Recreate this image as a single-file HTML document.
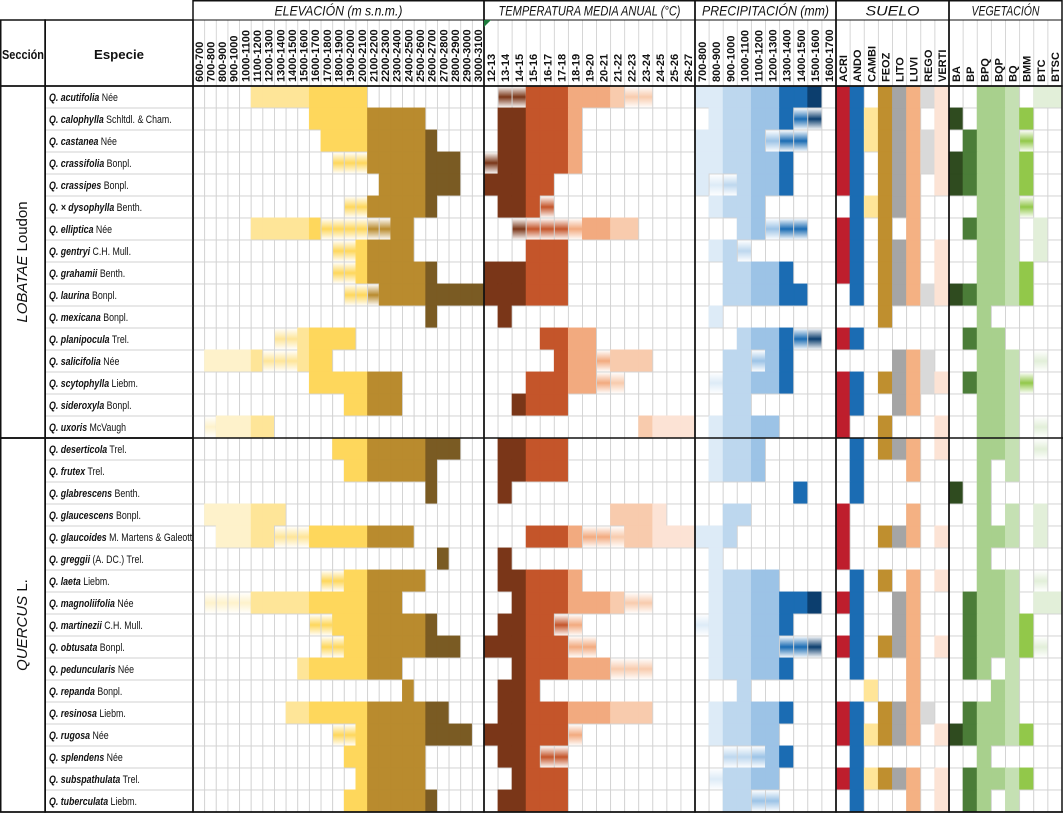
<!DOCTYPE html>
<html><head><meta charset="utf-8">
<style>
html,body{margin:0;padding:0;background:#fff;}
svg{display:block;font-family:"Liberation Sans",sans-serif;}
</style></head>
<body>
<svg id="chart" width="1063" height="814" viewBox="0 0 1063 814" xmlns="http://www.w3.org/2000/svg">
<defs id="defs"></defs>
<g id="cells"></g>
<g id="grid"></g>
<g id="labels"></g>
</svg>
<script>
const NS="http://www.w3.org/2000/svg";
const speciesEpithet=["acutifolia","calophylla","castanea","crassifolia","crassipes","× dysophylla","elliptica","gentryi","grahamii","laurina","mexicana","planipocula","salicifolia","scytophylla","sideroxyla","uxoris",
"deserticola","frutex","glabrescens","glaucescens","glaucoides","greggii","laeta","magnoliifolia","martinezii","obtusata","peduncularis","repanda","resinosa","rugosa","splendens","subspathulata","tuberculata"];
const speciesAuthor=["Née","Schltdl. & Cham.","Née","Bonpl.","Bonpl.","Benth.","Née","C.H. Mull.","Benth.","Bonpl.","Bonpl.","Trel.","Née","Liebm.","Bonpl.","McVaugh",
"Trel.","Trel.","Benth.","Bonpl.","M. Martens & Galeotti","(A. DC.) Trel.","Liebm.","Née","C.H. Mull.","Bonpl.","Née","Bonpl.","Liebm.","Née","Née","Trel.","Liebm."];
const sections=["LOBATAE","QUERCUS"];
const sectionAuthor=["Loudon","L."];
const sectionSizes=[16,17];
const elevLabels=["600-700","700-800","800-900","900-1000","1000-1100","1100-1200","1200-1300","1300-1400","1400-1500","1500-1600","1600-1700","1700-1800","1800-1900","1900-2000","2000-2100","2100-2200","2200-2300","2300-2400","2400-2500","2500-2600","2600-2700","2700-2800","2800-2900","2900-3000","3000-3100"];
const tempLabels=["12-13","13-14","14-15","15-16","16-17","17-18","18-19","19-20","20-21","21-22","22-23","23-24","24-25","25-26","26-27"];
const precLabels=["700-800","800-900","900-1000","1000-1100","1100-1200","1200-1300","1300-1400","1400-1500","1500-1600","1600-1700"];
const soilLabels=["ACRI","ANDO","CAMBI","FEOZ","LITO","LUVI","REGO","VERTI"];
const vegLabels=["BA","BP","BPQ","BQP","BQ","BMM","BTC","BTSC"];
// '#' = present, 'g' = partial (gradient), '.' = absent
const elevData=[
".....##########..........",
"..........##########.....",
"...........##########....",
"............ggg########..",
"................#######..",
".............gg######....",
".....######gggggg##......",
"............gg#####......",
"............gg#######....",
".............ggg#########",
"....................#....",
".......gg#####...........",
".#####ggg###.............",
"..........########.......",
".............#####.......",
".g#####..................",
"............###########..",
".............########....",
"....................#....",
".#######.................",
"..#####ggg#########......",
".....................#...",
"...........gg#######.....",
".gggg#############.......",
"..........gg#########....",
"...........gg##########..",
".........#########.......",
"..................#......",
"........##############...",
"............gg##########.",
".............#######.....",
"..............######.....",
".............########...."];
const tempData=[
".gg#######gg...",
".######........",
".######........",
"g######........",
"#####..........",
".###g..........",
"..ggggg####....",
"...###.........",
"######.........",
"######.........",
".#.............",
"....####.......",
".....###g###...",
"...#####gg.....",
"..####.........",
"...........####",
".#####.........",
".#####.........",
".#.............",
".........####..",
"...####ggg#####",
".#.............",
".######........",
"..########gg...",
".####gg........",
"######gg.......",
"..#######ggg...",
".###...........",
".###########...",
"######g........",
".###gg.........",
"..####.........",
".#####........."];
const precData=[
"#########.",
".######gg.",
"#####ggg..",
"#######...",
"#gg####...",
".####.....",
"...##ggg..",
".##g......",
"..#####...",
"..######..",
".#........",
"...####gg.",
"..##g##...",
".g#####...",
"..##......",
".#####....",
".####.....",
".####.....",
".......#..",
"..##......",
"###.......",
".#........",
".#####....",
".########.",
"g######...",
".#####ggg.",
".######...",
"...#......",
".######...",
".#####....",
"..ggg##...",
".g####....",
"..##gg...."];
const soilData=[
"##.#####","######.#","########","##.#####","##.###.#",".#####..","##.#.#..","##.###.#","##.###.#",".#.#####","...#....","##......","....###.","##.#####","##..##..","#..#...#",
".#.###.#",".#...#..",".#......","#....#..","#..###.#","#.......",".#.#.#.#","##..##..",".#..##..","##.###.#",".#...#..","..#..#..","##.####.","######.#",".#......","######.#",".#...#.#"];
const vegData=[
"..###.##","#.####..",".####g..","######..","######..","..###g..",".####.#.","..###.#.","..####..","######..","..#.....",".###....","..###.g.",".####g..","..###...","..###.g.",
"..###.g.","..#.#...","#.#.....","..#.#.#.","..###.#.","..#.....","..###.g.",".####.##",".#####..",".#####g.",".##.#...","...##...",".####...","######..","..#.....",".#####..",".##.#..."];

const elevColors=["#fef2cb","#fee598","#fed75c","#b98b2e","#7a5b23"];
const tempColors=["#7a3618","#c4552a","#f2aa7f","#f8cbad","#fce3d5"];
const precColors=["#ddebf7","#bdd7ee","#9cc3e6","#1b6cb3","#0c3e6e"];
const soilColors=["#be1e2d","#1b6cb3","#ffe598","#bf8f2f","#a5a5a5","#f4b183","#d9d9d9","#fce3d5"];
const vegColors=["#2f4b1f","#4b7d38","#a8d08d","#a8d08d","#c5e0b3","#92c84a","#e2efd9","#e2efd9"];

const TOP=86, ROWH=22;
const groups=[
 {name:"elevation",title:"ELEVACIÓN (m s.n.m.)",tl:128,x0:193,x1:484,labels:elevLabels,data:elevData,color:c=>elevColors[Math.floor(c/5)]},
 {name:"temperature",title:"TEMPERATURA MEDIA ANUAL (°C)",tl:182,x0:484,x1:695,labels:tempLabels,data:tempData,color:c=>tempColors[Math.floor(c/3)]},
 {name:"precipitation",title:"PRECIPITACIÓN (mm)",tl:127,x0:695,x1:836,labels:precLabels,data:precData,color:c=>precColors[Math.floor(c/2)]},
 {name:"soil",title:"SUELO",tl:54,x0:836,x1:949,labels:soilLabels,data:soilData,color:c=>soilColors[c]},
 {name:"vegetation",title:"VEGETACIÓN",tl:68,x0:949,x1:1062,labels:vegLabels,data:vegData,color:c=>vegColors[c]}
];
const defs=document.getElementById('defs');
const cellsG=document.getElementById('cells');
const gridG=document.getElementById('grid');
const labG=document.getElementById('labels');
function mk(tag,attrs,parent){const e=document.createElementNS(NS,tag);for(const k in attrs)e.setAttribute(k,attrs[k]);parent.appendChild(e);return e;}
const gradIds={};
function gradFor(col){
  if(gradIds[col])return gradIds[col];
  const id="g"+Object.keys(gradIds).length;
  const lg=mk('linearGradient',{id:id,x1:0,y1:0,x2:0,y2:1},defs);
  mk('stop',{offset:"0",'stop-color':"#fff"},lg);
  mk('stop',{offset:"0.5",'stop-color':col},lg);
  mk('stop',{offset:"1",'stop-color':"#fff"},lg);
  gradIds[col]="url(#"+id+")";return gradIds[col];
}
const nRows=speciesEpithet.length;
const yOf=r=>TOP+r*ROWH;
groups.forEach(g=>{
  const n=g.labels.length, w=(g.x1-g.x0)/n;
  const xOf=c=>g.x0+c*w;
  for(let r=0;r<nRows;r++){
    for(let c=0;c<n;c++){
      const v=g.data[r][c];
      const rc=mk('rect',{x:xOf(c),y:yOf(r),width:w,height:ROWH,fill:"#fff",stroke:"#d2d2d2","stroke-width":0.9},cellsG);
      if(v==='#'||v==='g'){
        rc.setAttribute('fill', v==='#'?g.color(c):gradFor(g.color(c)));
        rc.setAttribute('stroke', v==='#'?g.color(c):"#d2d2d2");
      }
      
      
    }
  }
  for(let c=0;c<n;c++){
    const cx=xOf(c)+w/2+4, cy=82;
    const t=mk('text',{x:cx,y:cy,transform:`rotate(-90 ${cx} ${cy})`,'font-size':"11",'font-weight':"bold",fill:"#111"},labG);
    t.textContent=g.labels[c];
    
    
    mk('line',{x1:xOf(c),y1:20,x2:xOf(c),y2:TOP,stroke:"#d2d2d2","stroke-width":0.9},gridG);
  }
  const tt=mk('text',{x:(g.x0+g.x1)/2,y:15.5,'text-anchor':"middle",'font-size':"14",'font-style':"italic",fill:"#111",textLength:g.tl,lengthAdjust:"spacingAndGlyphs"},labG);
  tt.textContent=g.title;
  
  
  mk('rect',{x:g.x0,y:0.75,width:g.x1-g.x0,height:TOP-0.75,fill:"none",stroke:"#111","stroke-width":1.5},gridG);
  mk('line',{x1:g.x0,y1:20,x2:g.x1,y2:20,stroke:"#111","stroke-width":1},gridG);
  mk('rect',{x:g.x0,y:TOP,width:g.x1-g.x0,height:nRows*ROWH,fill:"none",stroke:"#111","stroke-width":1.5},gridG);
});
mk('rect',{x:0.75,y:20,width:44.5,height:TOP-20,fill:"none",stroke:"#111","stroke-width":1.5},gridG);
mk('rect',{x:45,y:20,width:148,height:TOP-20,fill:"none",stroke:"#111","stroke-width":1.5},gridG);
let h=mk('text',{x:23,y:59,'text-anchor':"middle",'font-size':"13",'font-weight':"bold",fill:"#111",textLength:42,lengthAdjust:"spacingAndGlyphs"},labG);
h.textContent="Sección";
h=mk('text',{x:119,y:59,'text-anchor':"middle",'font-size':"13",'font-weight':"bold",fill:"#111",textLength:50,lengthAdjust:"spacingAndGlyphs"},labG);
h.textContent="Especie";
const SX=0.8;
for(let r=0;r<nRows;r++){
  mk('line',{x1:45,y1:yOf(r)+ROWH,x2:193,y2:yOf(r)+ROWH,stroke:"#d2d2d2","stroke-width":0.9},gridG);
  const t=mk('text',{x:49/SX,y:yOf(r)+15,transform:`scale(${SX},1)`,'font-size':"11",fill:"#111"},labG);
  const s1=mk('tspan',{'font-style':"italic",'font-weight':"bold"},t);s1.textContent="Q. "+speciesEpithet[r];
  const s2=mk('tspan',{},t);s2.textContent=" "+speciesAuthor[r];
  
  
}
let start=0;
sections.forEach((s,i)=>{
  const y0=yOf(start), y1=yOf(start+sectionSizes[i]);
  mk('rect',{x:0.75,y:y0,width:44.5,height:y1-y0,fill:"none",stroke:"#111","stroke-width":1.5},gridG);
  mk('rect',{x:45,y:y0,width:148,height:y1-y0,fill:"none",stroke:"#111","stroke-width":1.5},gridG);
  mk('line',{x1:0,y1:y1,x2:1063,y2:y1,stroke:"#111","stroke-width":1.5},gridG);
  const cx=27, cy=(y0+y1)/2;
  const t=mk('text',{x:cx,y:cy,'text-anchor':"middle",transform:`rotate(-90 ${cx} ${cy})`,'font-size':"15",fill:"#111"},labG);
  const a=mk('tspan',{'font-style':"italic"},t);a.textContent=s;
  const b=mk('tspan',{},t);b.textContent=" "+sectionAuthor[i];
  
  
  start+=sectionSizes[i];
});
mk('polygon',{points:"484,20 491,20 484,27",fill:"#1e7b3c"},gridG);
</script>
</body></html>
